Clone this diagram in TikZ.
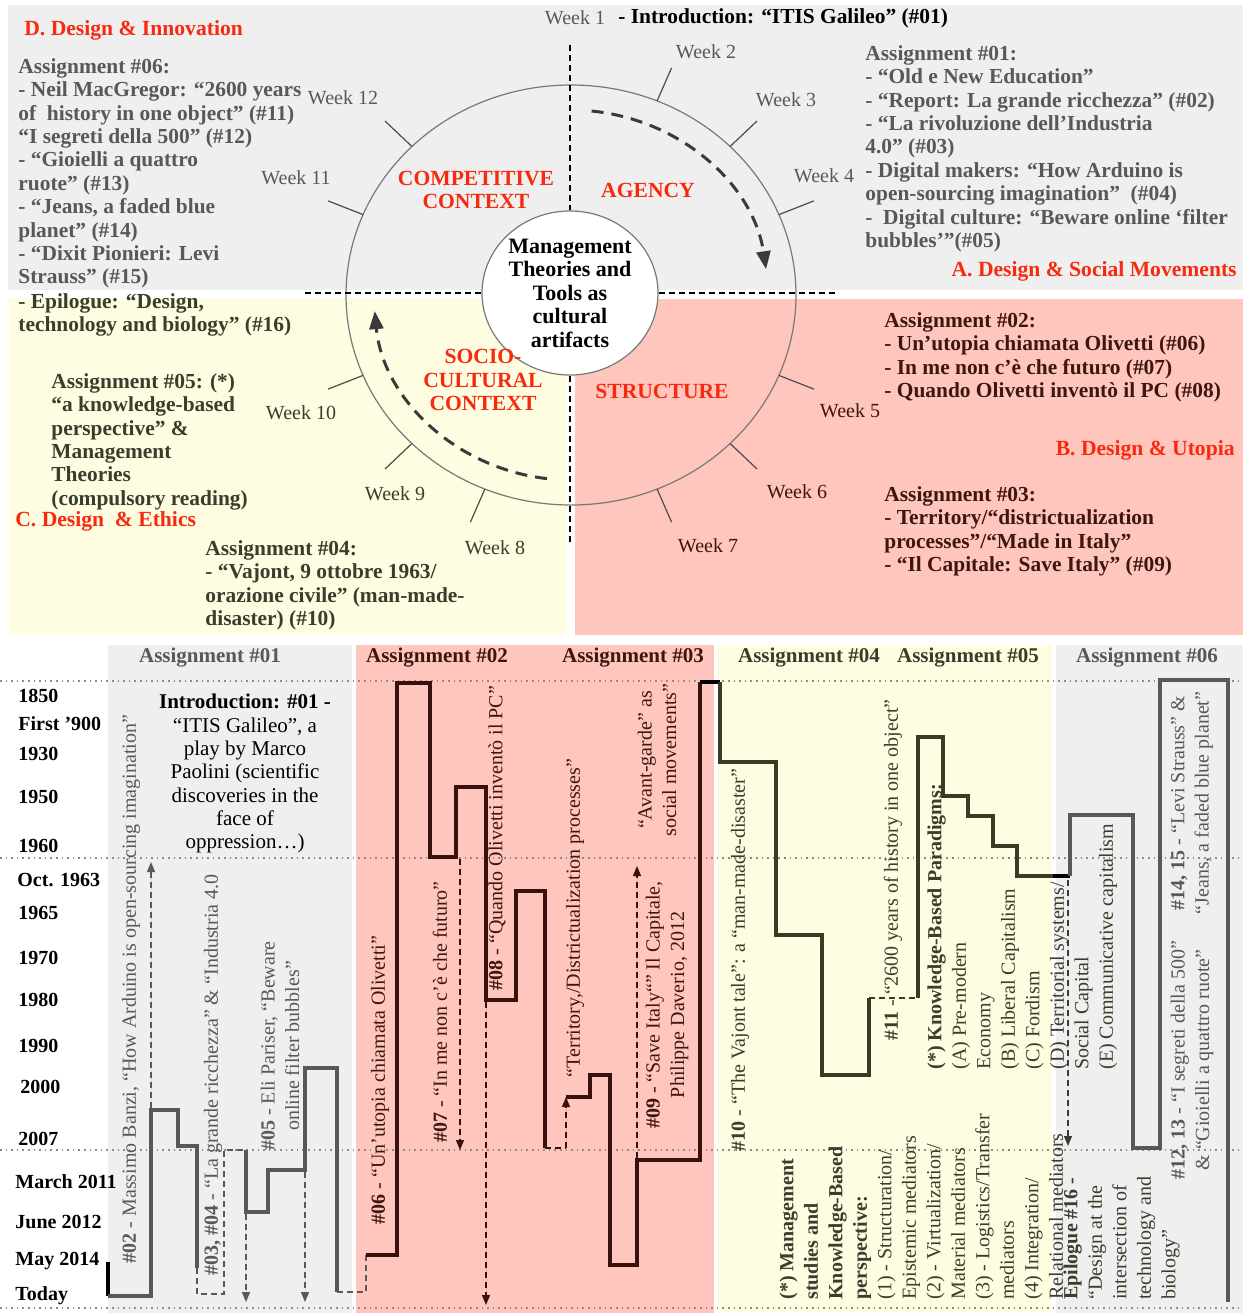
\documentclass[tikz,border=0pt]{standalone}
\usepackage{fontspec}
\setmainfont{Liberation Serif}
\usetikzlibrary{arrows.meta,shapes.geometric}
\definecolor{redhd}{RGB}{247,42,16}
\definecolor{panelgray}{RGB}{239,239,239}
\definecolor{panelyellow}{RGB}{254,253,225}
\definecolor{panelpink}{RGB}{255,198,189}
\definecolor{txtgray}{RGB}{88,88,88}
\definecolor{txtbrown}{RGB}{62,22,16}
\definecolor{txtolive}{RGB}{60,60,44}
\definecolor{lnbrown}{RGB}{58,16,12}
\definecolor{lnolive}{RGB}{60,58,38}
\definecolor{ringgray}{RGB}{120,120,120}
\definecolor{flowgray}{RGB}{58,58,58}

\begin{document}
\begin{tikzpicture}[x=0.5pt,y=-0.5pt,
  redhead/.style={font=\fontsize{10.8}{12}\selectfont\bfseries, text=redhd, inner sep=0pt},
  block/.style={font=\fontsize{10.7}{11.7}\selectfont\bfseries, align=left, inner sep=0pt, anchor=north west},
  sector/.style={font=\fontsize{10.8}{11.7}\selectfont\bfseries, text=redhd, align=center, inner sep=0pt},
  weeklbl/.style={font=\fontsize{10}{12}\selectfont, inner sep=0pt},
  yearlbl/.style={font=\fontsize{10}{12}\selectfont\bfseries, anchor=west, inner sep=0pt},
  colhead/.style={font=\fontsize{10.5}{12}\selectfont\bfseries, inner sep=0pt},
  vtext/.style={font=\fontsize{10}{12.2}\selectfont, rotate=90, align=center, inner sep=0pt},
  vblock/.style={font=\fontsize{10}{12.25}\selectfont, rotate=90, align=left, inner sep=0pt, anchor=north west},
  ring/.style={draw=ringgray, line width=0.6pt},
  weektick/.style={draw=black!70, line width=0.6pt},
  axisdash/.style={draw=black, line width=0.6pt, dash pattern=on 3pt off 2pt},
  flow/.style={draw=flowgray, line width=1.5pt, dash pattern=on 6pt off 4pt, -{Triangle[length=9pt,width=7pt]}},
  gline/.style={draw=txtgray, line width=2pt},
  bline/.style={draw=lnbrown, line width=2pt},
  oline/.style={draw=lnolive, line width=2pt},
  dline/.style={line width=0.6pt, dash pattern=on 3pt off 2pt},
  darrow/.style={dline, -{Triangle[length=5pt,width=4pt]}},
  dotrule/.style={draw=black!45, line width=0.8pt, dotted}]
\useasboundingbox (0,0) rectangle (1243,1313);

\fill[panelgray] (8,5) rectangle (1243,290);
\fill[panelyellow] (9,298) rectangle (567,635);
\fill[panelpink] (575,299) rectangle (1243,635);
\fill[panelgray] (108,645) rectangle (352,1313);
\fill[panelpink] (356,645) rectangle (714,1313);
\fill[panelyellow] (718,645) rectangle (1052,1313);
\fill[panelgray] (1056,645) rectangle (1243,1313);

\draw[ring] (571,295) ellipse [x radius=225, y radius=210];
\foreach \a in {67.5,45,22.5,-22.5,-45,-67.5,-112.5,-135,-157.5,157.5,135}
  \draw[weektick] ({571+225*cos(\a)},{295-210*sin(\a)}) -- ({571+263*cos(\a)},{295-246*sin(\a)});
\draw[flow] ({571+197*cos(84)},{295-185*sin(84)}) arc [start angle=-84, end angle=-8, x radius=197, y radius=185];
\draw[flow] ({571+197*cos(-97)},{295-185*sin(-97)}) arc [start angle=97, end angle=175, x radius=197, y radius=185];

\node[ellipse, draw=ringgray, fill=white, line width=0.6pt, minimum width=88pt, minimum height=82pt, inner sep=0pt, align=center, font=\fontsize{11}{11.75}\selectfont\bfseries] (core) at (570,293) {Management\\Theories and\\Tools as\\cultural\\artifacts};
\coordinate (topend) at (570,45);
\coordinate (botend) at (570,545);
\coordinate (leftend) at (305,293);
\coordinate (rightend) at (838,293);
\draw[axisdash] (topend) -- (core.north);
\draw[axisdash] (core.south) -- (botend);
\draw[axisdash] (leftend) -- (core.west);
\draw[axisdash] (core.east) -- (rightend);

\node[weeklbl, text=txtgray] (w1) at (575,18) {Week 1};
\foreach \n/\px/\py/\wc in {2/706/52/txtgray, 3/786/100/txtgray, 4/824/176/txtgray, 5/850/411/txtbrown, 6/797/492/txtbrown, 7/708/546/txtbrown, 8/495/548/txtolive, 9/395/494/txtolive, 10/301/413/txtolive, 11/296/178/txtgray, 12/343/98/txtgray}
  \node[weeklbl, text=\wc] (w\n) at (\px,\py) {Week \n};
\node[font=\fontsize{10.7}{12}\selectfont\bfseries, anchor=west, inner sep=0pt] (intro) at (618,18) {- Introduction: “ITIS Galileo” (\#01)};

\node[sector] (comp) at (476,190) {COMPETITIVE\\CONTEXT};
\node[sector] (agency) at (648,190) {AGENCY};
\node[sector] (socio) at (483,380) {SOCIO-\\CULTURAL\\CONTEXT};
\node[sector] (struct) at (662,391) {STRUCTURE};

\node[redhead, anchor=west] (hdD) at (24,30) {D. Design \& Innovation};
\node[redhead, anchor=east] (hdA) at (1237,271) {A. Design \& Social Movements};
\node[redhead, anchor=east] (hdB) at (1235,450) {B. Design \& Utopia};
\node[redhead, anchor=west] (hdC) at (15,521) {C. Design\ \ \& Ethics};

\node[block, text=txtgray] (asg06) at (18,58) {Assignment \#06:\\- Neil MacGregor: “2600 years\\of\ \ history in one object” (\#11)\\“I segreti della 500” (\#12)\\- “Gioielli a quattro\\ruote” (\#13)\\- “Jeans, a faded blue\\planet” (\#14)\\- “Dixit Pionieri: Levi\\Strauss” (\#15)};
\node[block, text=txtolive] (epil) at (18,293) {- Epilogue: “Design,\\technology and biology” (\#16)};
\node[block, text=txtgray] (asg01) at (865,45) {Assignment \#01:\\- “Old e New Education”\\- “Report: La grande ricchezza” (\#02)\\- “La rivoluzione dell’Industria\\4.0” (\#03)\\- Digital makers: “How Arduino is\\open-sourcing imagination”\ \ (\#04)\\-\ \ Digital culture: “Beware online ‘filter\\bubbles’”(\#05)};
\node[block, text=txtolive] (asg05) at (51,373) {Assignment \#05: (*)\\“a knowledge-based\\perspective” \&\\Management\\Theories\\(compulsory reading)};
\node[block, text=txtolive] (asg04) at (205,540) {Assignment \#04:\\- “Vajont, 9 ottobre 1963/\\orazione civile” (man-made-\\disaster) (\#10)};
\node[block, text=txtbrown] (asg02) at (884,312) {Assignment \#02:\\- Un'utopia chiamata Olivetti (\#06)\\- In me non c'è che futuro (\#07)\\- Quando Olivetti inventò il PC (\#08)};
\node[block, text=txtbrown] (asg03) at (884,486) {Assignment \#03:\\- Territory/“districtualization\\processes”/“Made in Italy”\\- “Il Capitale: Save Italy” (\#09)};

\node[colhead, text=txtgray] (h01) at (210,658) {Assignment \#01};
\node[colhead, text=txtbrown] (h02) at (437,658) {Assignment \#02};
\node[colhead, text=txtbrown] (h03) at (633,658) {Assignment \#03};
\node[colhead, text=txtolive] (h04) at (809,658) {Assignment \#04};
\node[colhead, text=txtolive] (h05) at (968,658) {Assignment \#05};
\node[colhead, text=txtgray] (h06) at (1147,658) {Assignment \#06};

\foreach \yy in {681,858,1150,1308}
  \draw[dotrule] (0,\yy) -- (1243,\yy);

\foreach \px/\py/\yr in {18/696/1850, 18/724/First '900, 18/754/1930, 18/797/1950, 18/846/1960, 17/880/Oct. 1963, 18/913/1965, 18/958/1970, 18/1000/1980, 18/1046/1990, 20/1087/2000, 18/1139/2007, 15/1182/March 2011, 15/1222/June 2012, 15/1261/May 2014, 15/1296/Today}
  \node[yearlbl] (yr\py) at (\px,\py) {\yr};

\node[font=\fontsize{10.5}{11.65}\selectfont, align=center, inner sep=0pt, anchor=north] (intro01) at (245,694) {\textbf{Introduction: \#01 -}\\“ITIS Galileo”, a\\play by Marco\\Paolini (scientific\\discoveries in the\\face of\\oppression…)};

\draw[draw=black, line width=2pt] (108,1262) -- (108,1296);
\draw[gline] (108,1296) -- (151,1296) -- (151,1110) -- (178,1110) -- (178,1146) -- (197,1146) -- (197,1268);
\draw[dline, draw=txtgray] (197,1268) -- (197,1294) -- (224,1294) -- (224,1150) -- (246,1150);
\draw[gline] (246,1150) -- (246,1212) -- (268,1212) -- (268,1170) -- (305,1170) -- (305,1068) -- (337,1068) -- (337,1292);
\draw[dline, draw=txtgray] (337,1292) -- (366,1292) -- (366,1255);
\draw[darrow, draw=txtgray, fill=txtgray] (151,1108) -- (151,862);
\draw[darrow, draw=txtgray, fill=txtgray] (246,1214) -- (246,1302);
\draw[darrow, draw=txtgray, fill=txtgray] (305,1172) -- (305,1302);

\draw[bline] (366,1255) -- (397,1255) -- (397,683) -- (430,683) -- (430,857) -- (456,857) -- (456,787) -- (486,787) -- (486,1000) -- (516,1000) -- (516,891) -- (545,891) -- (545,1148);
\draw[dline, draw=lnbrown] (545,1148) -- (566,1148);
\draw[darrow, draw=lnbrown, fill=lnbrown] (566,1148) -- (566,1097);
\draw[bline] (566,1097) -- (590,1097) -- (590,1075) -- (610,1075) -- (610,1265) -- (637,1265) -- (637,1160) -- (700,1160) -- (700,682);
\draw[darrow, draw=lnbrown, fill=lnbrown] (460,859) -- (460,1150);
\draw[darrow, draw=lnbrown, fill=lnbrown] (486,1002) -- (486,1305);
\draw[darrow, draw=lnbrown, fill=lnbrown] (637,1158) -- (637,866);
\draw[draw=black, line width=2pt] (700,682) -- (720,682);

\draw[oline] (720,682) -- (720,762) -- (776,762) -- (776,935) -- (822,935) -- (822,1075) -- (869,1075) -- (869,998);
\draw[dline, draw=lnolive] (869,998) -- (918,998);
\draw[oline] (918,998) -- (918,737) -- (943,737) -- (943,796) -- (968,796) -- (968,816) -- (993,816) -- (993,846) -- (1017,846) -- (1017,876) -- (1053,876);
\draw[draw=black, line width=2pt] (1053,876) -- (1070,876);
\draw[darrow, draw=flowgray, fill=flowgray] (1068,880) -- (1068,1146);

\draw[gline] (1070,876) -- (1070,815) -- (1133,815) -- (1133,1148) -- (1160,1148) -- (1160,680) -- (1228,680) -- (1228,1302);

\node[vtext, text=txtgray] (t02) at (131,989) {\textbf{\#02} - Massimo Banzi, “How Arduino is open-sourcing imagination”};
\node[vtext, text=txtgray] (t0304) at (213,1075) {\textbf{\#03, \#04} - “La grande ricchezza” \& “Industria 4.0};
\node[vtext, text=txtgray] (t05) at (280,1046) {\textbf{\#05} - Eli Pariser, “Beware\\online filter bubbles”};
\node[vtext, text=txtbrown] (t06) at (380,1080) {\textbf{\#06} - “Un'utopia chiamata Olivetti”};
\node[vtext, text=txtbrown] (t07) at (440,1012) {\textbf{\#07} - “In me non c'è che futuro”};
\node[vtext, text=txtbrown] (t08) at (497,838) {\textbf{\#08} - “Quando Olivetti inventò il PC”};
\node[vtext, text=txtbrown] (tterr) at (575,918) {“Territory,/Districtualization processes”};
\node[vtext, text=txtbrown] (t09) at (667,1005) {\textbf{\#09} - “Save Italy“” Il Capitale,\\Philippe Daverio, 2012};
\node[vtext, text=txtbrown] (tavant) at (657,760) {“Avant-garde” as\\social movements”};
\node[vtext, text=txtolive] (t10) at (740,960) {\textbf{\#10} - “The Vajont tale”: a “man-made-disaster”};
\node[vtext, text=txtolive] (t11) at (893,870) {\textbf{\#11} - “2600 years of history in one object”};
\node[vblock, text=txtolive] (kbp) at (927,1070) {\textbf{(*) Knowledge-Based Paradigms:}\\(A) Pre-modern\\Economy\\(B) Liberal Capitalism\\(C) Fordism\\(D) Territorial systems/\\Social Capital\\(E) Communicative capitalism};
\node[vblock, text=txtolive] (kbs) at (779,1300) {\textbf{(*) Management}\\\textbf{studies and}\\\textbf{Knowledge-Based}\\\textbf{perspective:}\\(1) - Structuration/\\Epistemic mediators\\(2) - Virtualization/\\Material mediators\\(3) - Logistics/Transfer\\mediators\\(4) Integration/\\Relational mediators};
\node[vblock, text=txtolive] (epi16) at (1063,1300) {\textbf{Epilogue \#16 -}\\“Design at the\\intersection of\\technology and\\biology”};
\node[vtext, text=txtgray] (t1213) at (1192,1060) {\textbf{\#12, 13} - “I segreti della 500”\\\& “Gioielli a quattro ruote”};
\node[vtext, text=txtgray] (t1415) at (1192,803) {\textbf{\#14, 15} - “Levi Strauss” \&\\“Jeans, a faded blue planet”};
\end{tikzpicture}
\end{document}
